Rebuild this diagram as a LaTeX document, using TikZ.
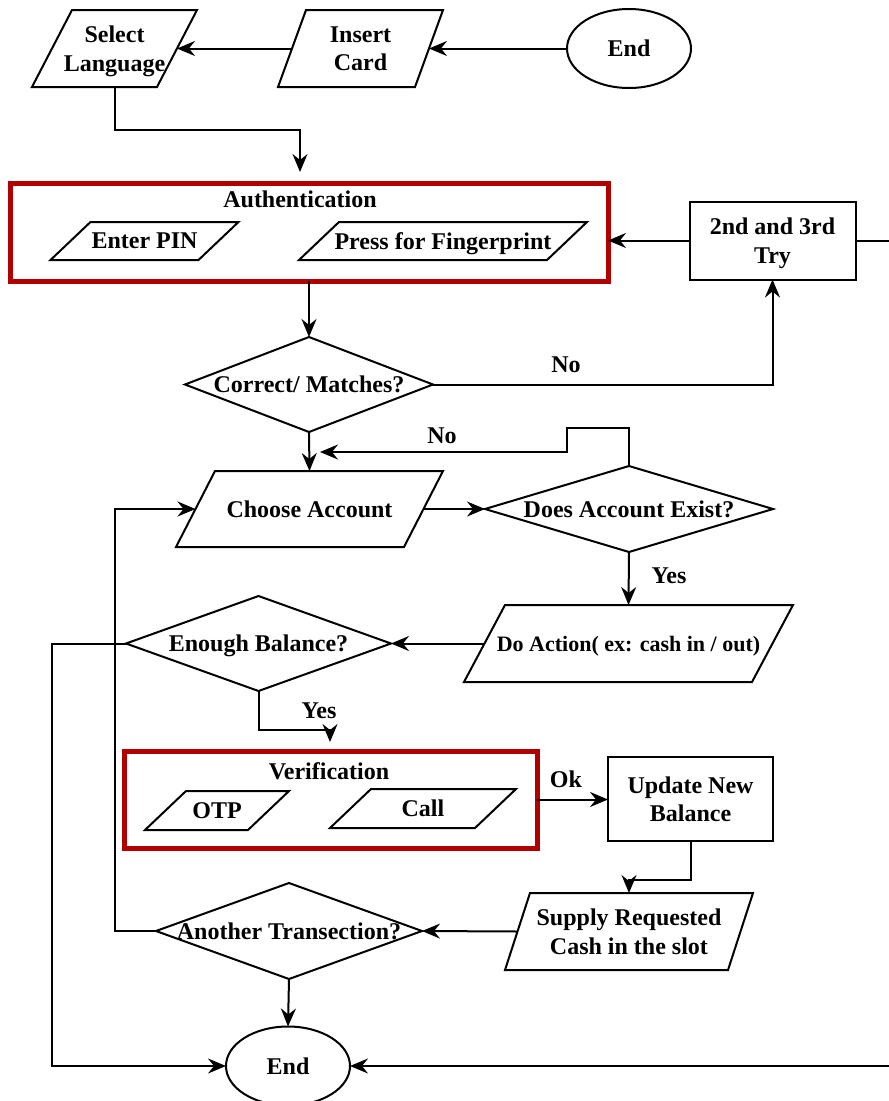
\documentclass[tikz,border=0pt]{standalone}
\usepackage{fontspec}
\setmainfont{Liberation Serif}
\usetikzlibrary{shapes.geometric,arrows.meta,calc}
\definecolor{boxred}{RGB}{176,0,0}
\tikzset{
  base/.style={inner sep=0pt, outer sep=0pt, text depth=0pt, font=\fontsize{24}{28.5}\selectfont\bfseries, align=center},
  shp/.style={draw, line width=2pt, line join=miter},
  ln/.style={line width=2pt},
  arr/.style={line width=2pt, -{Stealth[length=18pt,width=15pt,inset=6pt]}},
  redbox/.style={base, draw=boxred, line width=5pt},
  lbl/.style={base},
}
% parallelogram: name, x, y, width, height, half slant, text
\newcommand\pgram[7]{%
  \node[base, minimum width=#4pt, minimum height=#5pt] (#1) at (#2,#3) {#7};
  \draw[shp] ([xshift=-#6pt]#1.south west) -- ([xshift=-#6pt]#1.south east)
    -- ([xshift=#6pt]#1.north east) -- ([xshift=#6pt]#1.north west) -- cycle;
}
% diamond: name, x, y, width, height, text
\newcommand\dmnd[6]{%
  \node[base, minimum width=#4pt, minimum height=#5pt] (#1) at (#2,#3) {#6};
  \draw[shp] (#1.north) -- (#1.east) -- (#1.south) -- (#1.west) -- cycle;
}
\begin{document}
\begin{tikzpicture}[x=1pt, y=-1pt]
\useasboundingbox (0,0) rectangle (889,1101);
\clip (0,0) rectangle (889,1101);

% top row
\pgram{sl}{114.5}{48.5}{125}{77}{20}{Select\\Language}
\pgram{ic}{360.5}{48.5}{137}{77}{14}{Insert\\Card}
\node[base, shp, ellipse, minimum width=124pt, minimum height=79pt] (end1) at (629,48.5) {End};

% authentication group
\node[redbox, minimum width=598pt, minimum height=98pt] (auth) at (309,232) {};
\node[lbl] (authT) at (300,199) {Authentication};
\pgram{pin}{144.5}{241}{148}{38}{20}{Enter PIN}
\pgram{finger}{443}{241}{248}{38}{20}{Press for Fingerprint}

\node[base, shp, minimum width=166pt, minimum height=78pt] (try) at (772.5,240.5) {2nd and 3rd\\Try};

\dmnd{cm}{309}{384.5}{248}{95}{Correct/ Matches?}
\pgram{ca}{309.5}{509}{228}{76}{19.5}{Choose Account}
\dmnd{dae}{629}{509}{288}{86}{Does Account Exist?}
\pgram{da}{628.5}{643.5}{288}{77}{20.5}{\fontsize{22}{26}\selectfont Do Action( ex: cash in / out)}
\dmnd{eb}{258.5}{643.5}{265}{95}{Enough Balance?}

% verification group
\node[redbox, minimum width=413pt, minimum height=97pt] (verif) at (330.5,799.5) {};
\node[lbl] (verifT) at (329,771) {Verification};
\pgram{otp}{217}{810.5}{103}{39}{20.5}{OTP}
\pgram{call}{423}{808.5}{145}{39}{20.5}{Call}

\node[base, shp, minimum width=165pt, minimum height=84pt] (upd) at (690.5,799) {Update New\\Balance};
\pgram{sup}{629}{931.5}{223}{77}{12.5}{Supply Requested\\Cash in the slot}
\dmnd{at}{289}{931}{266}{96}{Another Transection?}
\node[base, shp, ellipse, minimum width=124pt, minimum height=79pt] (end2) at (288,1066) {End};

% labels
\node[lbl] (no1) at (566,365) {No};
\node[lbl] (no2) at (442,436) {No};
\node[lbl] (yes1) at (669,576) {Yes};
\node[lbl] (yes2) at (319,711) {Yes};
\node[lbl] (ok) at (566,779) {Ok};

% helper coordinates
\coordinate (authIn) at (300,172);
\coordinate (noTip) at (320,452);
\coordinate (verifIn) at (330,742);

% connectors
\draw[arr] (end1.west) -- (ic.east);
\draw[arr] (ic.west) -- (sl.east);
\draw[arr] (sl.south) -- ++(0,43) -| (authIn);
\draw[arr] (auth.south) -- (cm.north);
\draw[arr] (cm.east) -| (try.south);
\draw[arr] (try.west) -- (try.west -| auth.east);
\draw[arr] (try.east) -- ++(60,0) |- (end2.east);
\draw[arr] (cm.south) -- (ca.north);
\draw[arr] (ca.east) -- (dae.west);
\draw[arr] (dae.north) |- (567,428) |- (noTip);
\draw[arr] (dae.south) -- (da.north);
\draw[arr] (da.west) -- (eb.east);
\draw[arr] (eb.west) -- (52,643.5) |- (end2.west);
\draw[arr] (eb.south) |- (330,730) -- (verifIn);
\draw[arr] (verif.east) -- (verif.east -| upd.west);
\draw[arr] (upd.south) |- ($(sup.north)+(0,-13)$) -- (sup.north);
\draw[arr] (sup.west) -- (at.east);
\draw[arr] (at.west) -- (115,931) |- (ca.west);
\draw[arr] (at.south) -- (end2.north);
\end{tikzpicture}
\end{document}
